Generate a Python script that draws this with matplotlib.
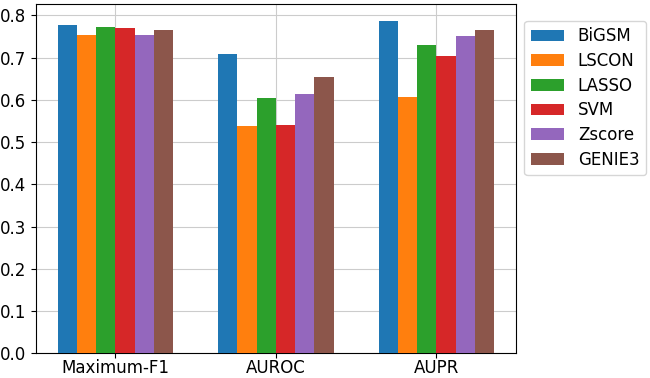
import matplotlib
matplotlib.use("Agg")
import matplotlib.pyplot as plt
import numpy as np

metrics = ["Maximum-F1", "AUROC", "AUPR"]
methods = ["BiGSM", "LSCON", "LASSO", "SVM", "Zscore", "GENIE3"]
bigsm = [0.777, 0.709, 0.787]
lscon = [0.753, 0.538, 0.606]
lasso = [0.773, 0.605, 0.729]
svm = [0.771, 0.540, 0.703]
zscore = [0.753, 0.613, 0.751]
genie3 = [0.764, 0.653, 0.766]

series = [bigsm, lscon, lasso, svm, zscore, genie3]
colors = ["#1f77b4", "#ff7f0e", "#2ca02c", "#d62728", "#9467bd", "#8c564b"]

fig, ax = plt.subplots(figsize=(6.5, 3.78), dpi=100)
x = np.arange(len(metrics))
w = 0.12
for i, (vals, name) in enumerate(zip(series, methods)):
    ax.bar(x + (i - 2.5) * w, vals, w, label=name, color=colors[i], zorder=3)

ax.set_xticks(x)
ax.set_xticklabels(metrics, fontsize=12)
ax.tick_params(axis="x", pad=1)
ax.tick_params(axis="y", labelsize=12)
ax.grid(True, color="#cccccc", zorder=0)
ax.legend(loc="upper left", bbox_to_anchor=(1.0, 0.977), fontsize=12,
          labelspacing=0.4)
plt.subplots_adjust(left=0.055, right=0.794, top=0.989, bottom=0.0655)
plt.savefig("out.png")
